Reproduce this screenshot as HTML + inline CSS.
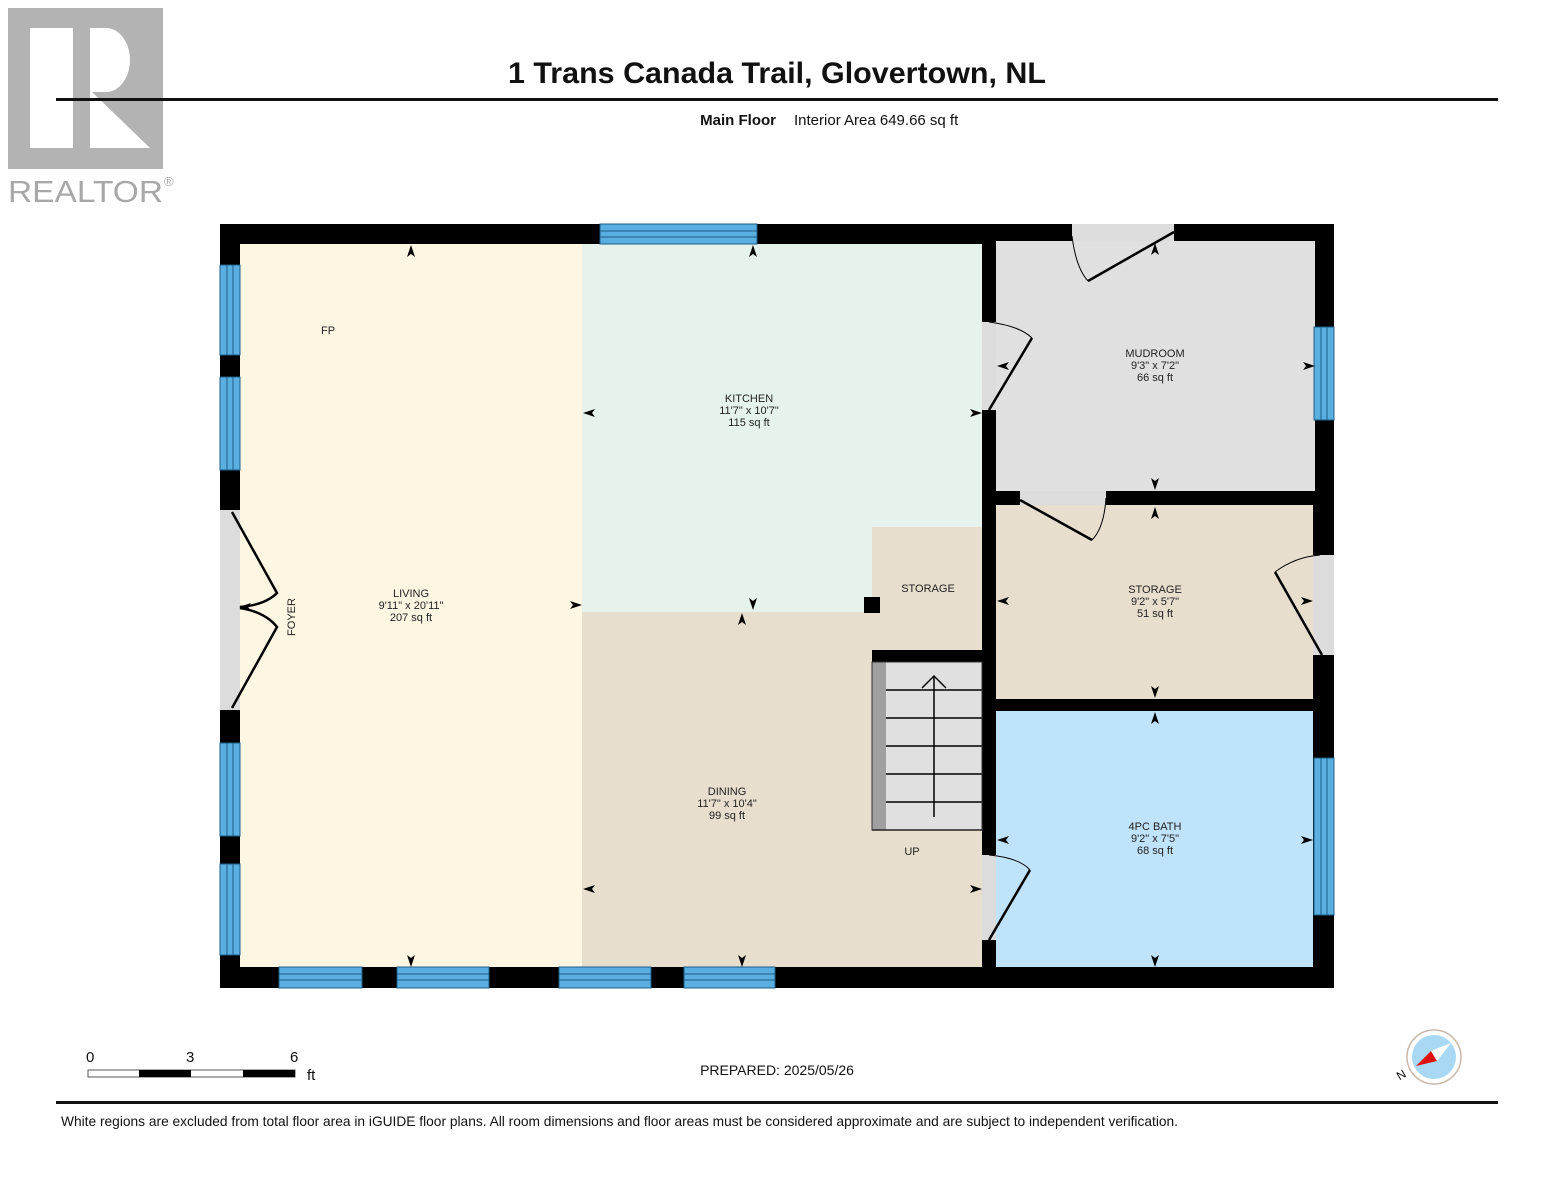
<!DOCTYPE html>
<html><head><meta charset="utf-8"><style>
html,body{margin:0;padding:0;background:#fff;}
svg{display:block;}
text{font-family:"Liberation Sans",Arial,sans-serif;}
</style></head><body>
<svg width="1554" height="1200" viewBox="0 0 1554 1200" xmlns="http://www.w3.org/2000/svg">
<defs>
<polygon id="au" points="0,-7 4,5 0,2 -4,5" fill="#000"/>
</defs>
<!-- Realtor logo -->
<rect x="8" y="8" width="155" height="161" fill="#b3b3b3"/>
<rect x="30" y="28" width="43" height="120" fill="#fff"/>
<path d="M90,28 H106 A24,32 0 0 1 106,92 H92 L150,148 H90 Z" fill="#fff"/>
<text x="8" y="202" font-size="31" fill="#a8a8a8" textLength="155" lengthAdjust="spacingAndGlyphs">REALTOR</text>
<text x="164" y="186" font-size="13" fill="#a8a8a8">®</text>
<!-- Title -->
<text x="777" y="83" font-size="30" font-weight="bold" text-anchor="middle" fill="#111" textLength="538" lengthAdjust="spacingAndGlyphs">1 Trans Canada Trail, Glovertown, NL</text>
<rect x="56" y="98" width="1442" height="3" fill="#111"/>
<text x="776" y="125" font-size="15" font-weight="bold" text-anchor="end" fill="#111">Main Floor</text>
<text x="794" y="125" font-size="15" fill="#111">Interior Area 649.66 sq ft</text>

<!-- Rooms -->
<rect x="220" y="224" width="1114" height="764" fill="#000"/>
<rect x="240" y="244" width="342" height="723" fill="#fdf6e2"/>
<rect x="582" y="244" width="400" height="368" fill="#e6f3ec"/>
<rect x="582" y="612" width="400" height="355" fill="#e8dece"/>
<rect x="872" y="527" width="110" height="90" fill="#e8dece"/>
<rect x="996" y="241" width="319" height="250" fill="#e0e0e0"/>
<rect x="996" y="505" width="317" height="194" fill="#e8dece"/>
<rect x="996" y="711" width="317" height="256" fill="#bfe3fb"/>
<rect x="864" y="597" width="16" height="16" fill="#000"/>

<!-- Windows -->
<g fill="#5aaee0" stroke="#1d5f8a" stroke-width="1">
<rect x="600" y="224" width="157" height="20"/>
<rect x="220" y="265" width="20" height="90"/>
<rect x="220" y="377" width="20" height="93"/>
<rect x="220" y="743" width="20" height="93"/>
<rect x="220" y="864" width="20" height="91"/>
<rect x="279" y="967" width="83" height="21"/>
<rect x="397" y="967" width="92" height="21"/>
<rect x="559" y="967" width="92" height="21"/>
<rect x="684" y="967" width="91" height="21"/>
<rect x="1314" y="327" width="20" height="93"/>
<rect x="1314" y="758" width="20" height="157"/>
</g>
<g stroke="#1d5f8a" stroke-width="1">
<line x1="600" y1="231" x2="757" y2="231"/><line x1="600" y1="237" x2="757" y2="237"/>
<line x1="227" y1="265" x2="227" y2="355"/><line x1="233" y1="265" x2="233" y2="355"/>
<line x1="227" y1="377" x2="227" y2="470"/><line x1="233" y1="377" x2="233" y2="470"/>
<line x1="227" y1="743" x2="227" y2="836"/><line x1="233" y1="743" x2="233" y2="836"/>
<line x1="227" y1="864" x2="227" y2="955"/><line x1="233" y1="864" x2="233" y2="955"/>
<line x1="279" y1="974" x2="362" y2="974"/><line x1="279" y1="980" x2="362" y2="980"/>
<line x1="397" y1="974" x2="489" y2="974"/><line x1="397" y1="980" x2="489" y2="980"/>
<line x1="559" y1="974" x2="651" y2="974"/><line x1="559" y1="980" x2="651" y2="980"/>
<line x1="684" y1="974" x2="775" y2="974"/><line x1="684" y1="980" x2="775" y2="980"/>
<line x1="1321" y1="327" x2="1321" y2="420"/><line x1="1327" y1="327" x2="1327" y2="420"/>
<line x1="1321" y1="758" x2="1321" y2="915"/><line x1="1327" y1="758" x2="1327" y2="915"/>
</g>
<!-- door openings -->
<g fill="#dcdcdc">
<rect x="220" y="510" width="20" height="200"/>
<rect x="1072" y="224" width="102" height="17"/>
<rect x="982" y="322" width="14" height="88"/>
<rect x="982" y="855" width="14" height="85"/>
<rect x="1020" y="491" width="86" height="14"/>
<rect x="1313" y="555" width="21" height="100"/>
</g>
<g fill="#000">
<rect x="982" y="224" width="14" height="98"/>
<rect x="982" y="410" width="14" height="445"/>
<rect x="982" y="940" width="14" height="48"/>
<rect x="996" y="491" width="24" height="14"/>
<rect x="1106" y="491" width="209" height="14"/>
<rect x="996" y="699" width="318" height="12"/>
<rect x="872" y="650" width="110" height="12"/>
</g>
<!-- doors -->
<g stroke="#000" stroke-width="2.5" fill="none">
<path d="M232,512 L277,593 Q265,605 240,607"/>
<path d="M232,708 L277,627 Q265,612 240,608"/>
<path d="M1174,232 L1088,281"/><path d="M1072,236 Q1076,268 1088,281" stroke-width="1"/>
<path d="M989,410 L1032,338"/><path d="M989,322 Q1020,326 1032,338" stroke-width="1"/>
<path d="M989,940 L1030,870"/><path d="M989,855 Q1020,858 1030,870" stroke-width="1"/>
<path d="M1020,500 L1092,540"/><path d="M1106,498 Q1104,528 1092,540" stroke-width="1"/>
<path d="M1322,655 L1275,572"/><path d="M1275,572 Q1295,557 1320,555" stroke-width="1"/>
</g>
<!-- stairs -->
<rect x="872" y="662" width="14" height="168" fill="#a0a0a0"/>
<rect x="886" y="662" width="96" height="168" fill="#e0e0e0"/>
<g stroke="#000" stroke-width="1.5">
<line x1="886" y1="690" x2="982" y2="690"/><line x1="886" y1="718" x2="982" y2="718"/>
<line x1="886" y1="746" x2="982" y2="746"/><line x1="886" y1="774" x2="982" y2="774"/>
<line x1="886" y1="802" x2="982" y2="802"/><line x1="886" y1="830" x2="982" y2="830"/>
<line x1="872" y1="830" x2="886" y2="830"/>
<line x1="934" y1="676" x2="934" y2="817"/>
<polyline points="922,688 934,676 946,688" fill="none"/>
</g>
<rect x="872" y="662" width="110" height="168" fill="none" stroke="#333" stroke-width="1"/>

<!-- arrows -->
<g>
<use href="#au" transform="translate(411,252)"/><use href="#au" transform="translate(411,960) rotate(180)"/><use href="#au" transform="translate(575,605) rotate(90)"/>
<use href="#au" transform="translate(753,252)"/><use href="#au" transform="translate(590,413) rotate(-90)"/><use href="#au" transform="translate(975,413) rotate(90)"/><use href="#au" transform="translate(753,603) rotate(180)"/>
<use href="#au" transform="translate(742,620)"/><use href="#au" transform="translate(590,889) rotate(-90)"/><use href="#au" transform="translate(975,889) rotate(90)"/><use href="#au" transform="translate(742,960) rotate(180)"/>
<use href="#au" transform="translate(1155,250)"/><use href="#au" transform="translate(1004,366) rotate(-90)"/><use href="#au" transform="translate(1308,366) rotate(90)"/><use href="#au" transform="translate(1155,483) rotate(180)"/>
<use href="#au" transform="translate(1155,514)"/><use href="#au" transform="translate(1004,601) rotate(-90)"/><use href="#au" transform="translate(1306,601) rotate(90)"/><use href="#au" transform="translate(1155,691) rotate(180)"/>
<use href="#au" transform="translate(1155,719)"/><use href="#au" transform="translate(1004,840) rotate(-90)"/><use href="#au" transform="translate(1306,840) rotate(90)"/><use href="#au" transform="translate(1155,960) rotate(180)"/>
<use href="#au" transform="translate(246,607) rotate(-90)"/>
</g>

<!-- labels -->
<g font-size="11" fill="#222" text-anchor="middle">
<text x="328" y="334">FP</text>
<text x="411" y="597">LIVING</text><text x="411" y="609">9'11" x 20'11"</text><text x="411" y="621">207 sq ft</text>
<text x="749" y="402">KITCHEN</text><text x="749" y="414">11'7" x 10'7"</text><text x="749" y="426">115 sq ft</text>
<text x="928" y="592">STORAGE</text>
<text x="727" y="795">DINING</text><text x="727" y="807">11'7" x 10'4"</text><text x="727" y="819">99 sq ft</text>
<text x="912" y="855">UP</text>
<text x="1155" y="357">MUDROOM</text><text x="1155" y="369">9'3" x 7'2"</text><text x="1155" y="381">66 sq ft</text>
<text x="1155" y="593">STORAGE</text><text x="1155" y="605">9'2" x 5'7"</text><text x="1155" y="617">51 sq ft</text>
<text x="1155" y="830">4PC BATH</text><text x="1155" y="842">9'2" x 7'5"</text><text x="1155" y="854">68 sq ft</text>
<text transform="translate(295,617) rotate(-90)">FOYER</text>
</g>

<!-- scale -->
<g font-size="15" fill="#111">
<text x="86" y="1062">0</text><text x="186" y="1062">3</text><text x="290" y="1062">6</text><text x="307" y="1080">ft</text>
</g>
<rect x="88" y="1070" width="207" height="7" fill="#fff" stroke="#555" stroke-width="1"/>
<rect x="139" y="1070" width="52" height="7" fill="#000"/>
<rect x="243" y="1070" width="52" height="7" fill="#000"/>
<text x="777" y="1075" font-size="14" fill="#111" text-anchor="middle">PREPARED: 2025/05/26</text>
<!-- compass -->
<circle cx="1434" cy="1057" r="27" fill="#fff" stroke="#c9b8a8" stroke-width="1.5"/>
<circle cx="1434" cy="1057" r="22" fill="#a8d8f4"/>
<polygon points="1416,1066 1431,1051 1437,1061" fill="#e01010"/>
<polygon points="1431,1051 1451,1043 1437,1061" fill="#fff"/>
<text x="1397" y="1079" font-size="12" fill="#111" transform="rotate(-30 1401 1075)">N</text>
<rect x="56" y="1101" width="1442" height="3" fill="#111"/>
<text x="61" y="1126" font-size="13.7" fill="#111" textLength="1117" lengthAdjust="spacingAndGlyphs">White regions are excluded from total floor area in iGUIDE floor plans. All room dimensions and floor areas must be considered approximate and are subject to independent verification.</text>
</svg>
</body></html>
